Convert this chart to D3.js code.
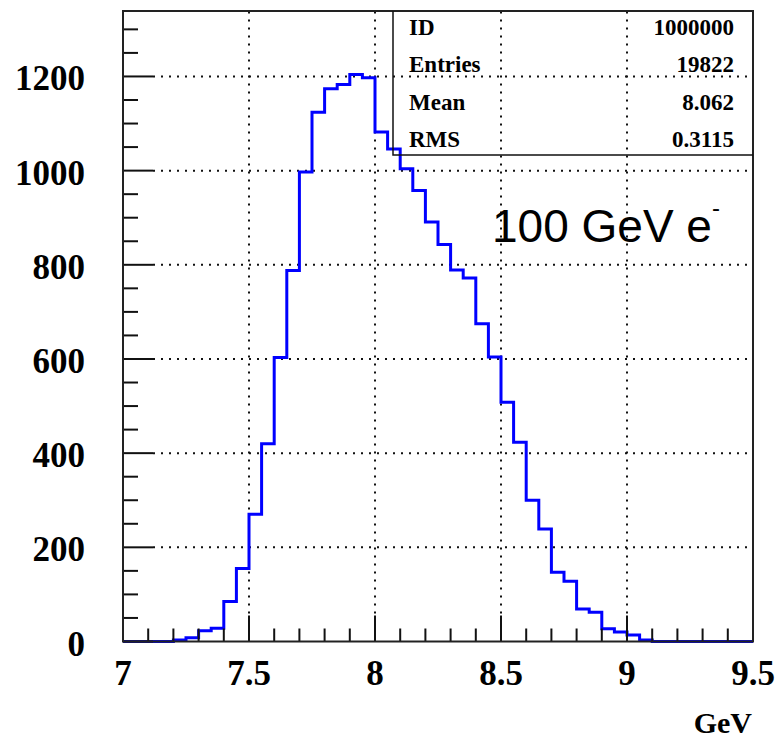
<!DOCTYPE html>
<html>
<head>
<meta charset="utf-8">
<script src="https://cdn.jsdelivr.net/npm/d3@7.9.0/dist/d3.min.js"></script>
<style>
  body { margin: 0; background: #fff; }
  svg { display: block; }
  .tick-label { font-family: 'Liberation Serif', 'DejaVu Serif', serif; font-weight: bold; }
</style>
</head>
<body>
<svg id="chart" width="779" height="741"></svg>
<script>
// histogram: 50 bins of 0.05 GeV from 7 to 9.5
const xMin = 7;
const xMax = 9.5;
const binWidth = 0.05;
const counts = [
  0, 0, 0, 0, 3, 8, 23, 28, 85, 155,
  270, 420, 603, 788, 997, 1124, 1174, 1183, 1204, 1197,
  1082, 1046, 1004, 958, 891, 843, 789, 772, 675, 604,
  508, 423, 300, 239, 147, 128, 69, 62, 27, 20,
  14, 3, 0, 0, 0, 0, 0, 0, 0, 0
];
const xTicks = [7, 7.5, 8, 8.5, 9, 9.5];
const yTicks = [0, 200, 400, 600, 800, 1000, 1200];
const yMax = 1339;
const statLabels = ['ID', 'Entries', 'Mean', 'RMS'];
const statValues = ['1000000', '19822', '8.062', '0.3115'];

const plotLeft = 123, plotRight = 753, plotTop = 11, plotBottom = 641.5;
const svg = d3.select('#chart');

const x = d3.scaleLinear().domain([xMin, xMax]).range([plotLeft, plotRight]);
const y = d3.scaleLinear().domain([0, yMax]).range([plotBottom, plotTop]);

// dotted grid
const grid = svg.append('g')
  .attr('stroke', '#111')
  .attr('stroke-width', 2)
  .attr('stroke-dasharray', '2,6');

yTicks.filter(d => d > 0).forEach(d => {
  grid.append('line')
    .attr('x1', plotLeft + 30).attr('x2', plotRight)
    .attr('y1', y(d)).attr('y2', y(d));
});
xTicks.filter(d => d > xMin && d < xMax).forEach(d => {
  grid.append('line')
    .attr('x1', x(d)).attr('x2', x(d))
    .attr('y1', plotBottom - 28).attr('y2', plotTop);
});

// histogram outline
const points = counts.map((c, i) => [xMin + i * binWidth, c]);
points.push([xMax, counts[counts.length - 1]]);

const line = d3.line()
  .x(d => x(d[0]))
  .y(d => y(d[1]))
  .curve(d3.curveStepAfter);

svg.append('path')
  .datum(points)
  .attr('d', line)
  .attr('fill', 'none')
  .attr('stroke', '#0000ff')
  .attr('stroke-width', 3);

// ticks inside the frame
const ticks = svg.append('g').attr('stroke', '#111').attr('stroke-width', 2);

d3.range(0, yMax, 50).forEach(d => {
  const major = d % 200 === 0;
  ticks.append('line')
    .attr('x1', plotLeft).attr('x2', plotLeft + (major ? 30 : 15))
    .attr('y1', y(d)).attr('y2', y(d));
});
d3.range(0, 26).forEach(i => {
  const d = xMin + i * 0.1;
  const major = i % 5 === 0;
  ticks.append('line')
    .attr('x1', x(d)).attr('x2', x(d))
    .attr('y1', plotBottom).attr('y2', plotBottom - (major ? 26 : 13));
});

// frame
svg.append('rect')
  .attr('x', plotLeft).attr('y', plotTop)
  .attr('width', plotRight - plotLeft).attr('height', plotBottom - plotTop)
  .attr('fill', 'none')
  .attr('stroke', '#222')
  .attr('stroke-width', 2);

// tick labels
svg.append('g').selectAll('text')
  .data(yTicks)
  .join('text')
  .attr('class', 'tick-label')
  .attr('x', 85)
  .attr('y', d => y(d) + 14)
  .attr('text-anchor', 'end')
  .attr('font-size', 35)
  .text(d => d);

svg.append('g').selectAll('text')
  .data(xTicks)
  .join('text')
  .attr('class', 'tick-label')
  .attr('x', d => x(d))
  .attr('y', 685)
  .attr('text-anchor', 'middle')
  .attr('font-size', 35)
  .text(d => d);

svg.append('text')
  .attr('class', 'tick-label')
  .attr('x', 752)
  .attr('y', 733)
  .attr('text-anchor', 'end')
  .attr('font-size', 30)
  .text('GeV');

// stats box
svg.append('path')
  .attr('d', `M393,${plotTop} V155 H${plotRight}`)
  .attr('fill', 'none')
  .attr('stroke', '#111')
  .attr('stroke-width', 1.5);

const stats = svg.append('g')
  .attr('class', 'tick-label')
  .attr('font-size', 23);

statLabels.forEach((s, i) => {
  stats.append('text')
    .attr('x', 409)
    .attr('y', 35 + i * 37.3)
    .text(s);
  stats.append('text')
    .attr('x', 734)
    .attr('y', 35 + i * 37.3)
    .attr('text-anchor', 'end')
    .text(statValues[i]);
});

// beam label
const label = svg.append('text')
  .attr('x', 492)
  .attr('y', 242)
  .attr('font-family', "'Liberation Sans', Arial, sans-serif")
  .attr('font-size', 46)
  .attr('fill', '#000');
label.append('tspan').text('100 GeV e');
label.append('tspan')
  .attr('font-size', 24)
  .attr('dy', -26)
  .text('-');
</script>
</body>
</html>
